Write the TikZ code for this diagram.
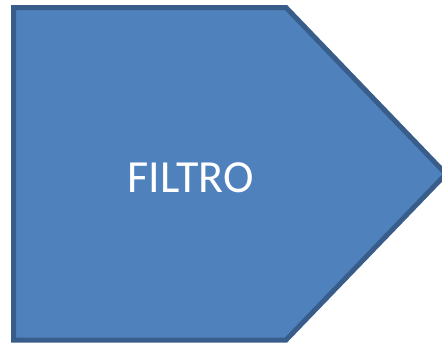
\documentclass[tikz,border=0pt]{standalone}
\usepackage{fontspec}
\setmainfont{Carlito}
\definecolor{fillblue}{HTML}{4F81BD}
\definecolor{edgeblue}{HTML}{385D8A}
\begin{document}
\begin{tikzpicture}[x=1pt,y=-1pt,
  pentbox/.style={fill=fillblue,draw=edgeblue,line width=5pt,line join=miter},
  labeltext/.style={text=white,font=\fontsize{46}{50}\selectfont,inner sep=0pt}]
\useasboundingbox (0,0) rectangle (442,343);
\clip (0,0) rectangle (442,343);
\draw[pentbox] (13.5,7.5) -- (286,7.5) -- (446,174) -- (286,340) -- (13.5,340) -- cycle;
\node[labeltext,anchor=base] (label) at (190.5,192.3) {FILTRO};
\end{tikzpicture}
\end{document}
